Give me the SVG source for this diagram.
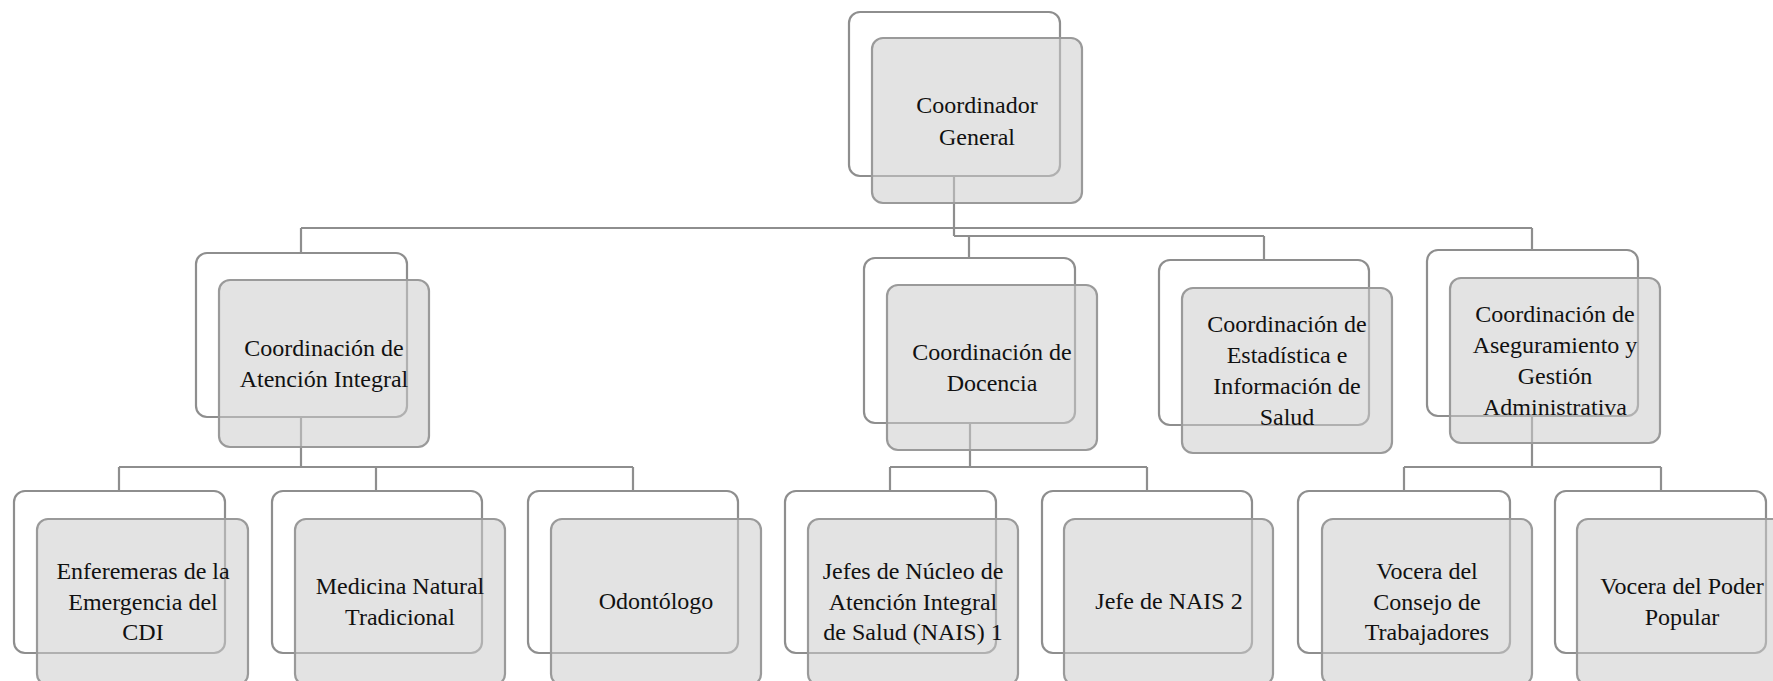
<svg xmlns="http://www.w3.org/2000/svg" width="1773" height="681" viewBox="0 0 1773 681">
<style>
.bg{fill:#ffffff;stroke:#8e8e8e;stroke-width:2.2}
.fg{fill:#cccccc;fill-opacity:0.55;stroke:#9a9a9a;stroke-width:2.2}
.t{font-family:"Liberation Serif","Times New Roman",serif;font-size:24px;fill:#111;text-anchor:middle}
.c{fill:none;stroke:#8e8e8e;stroke-width:2.2}
</style>
<rect width="1773" height="681" fill="#ffffff"/>
<g id="connectors" class="c">
<path d="M954 176 V236 M301 228 H1532 M301 228 V253 M1532 228 V250 M954 236 H1264 M969 236 V258 M1264 236 V260"/>
<path d="M301 417 V467 M119 467 H633 M119 467 V491 M376 467 V491 M633 467 V491"/>
<path d="M970 423 V467 M890 467 H1147 M890 467 V491 M1147 467 V491"/>
<path d="M1532 416 V467 M1404 467 H1661 M1404 467 V491 M1661 467 V491"/>
</g>
<g id="n-coordinador">
<rect class="bg" x="849" y="12" width="211" height="164" rx="11"/>
<rect class="fg" x="872" y="38" width="210" height="165" rx="11"/>
<text class="t" x="977" y="113">Coordinador</text>
<text class="t" x="977" y="145">General</text>
</g>
<g id="n-atencion">
<rect class="bg" x="196" y="253" width="211" height="164" rx="11"/>
<rect class="fg" x="219" y="280" width="210" height="167" rx="11"/>
<text class="t" x="324" y="356">Coordinación de</text>
<text class="t" x="324" y="387">Atención Integral</text>
</g>
<g id="n-docencia">
<rect class="bg" x="864" y="258" width="211" height="165" rx="11"/>
<rect class="fg" x="887" y="285" width="210" height="165" rx="11"/>
<text class="t" x="992" y="360">Coordinación de</text>
<text class="t" x="992" y="391">Docencia</text>
</g>
<g id="n-estadistica">
<rect class="bg" x="1159" y="260" width="210" height="165" rx="11"/>
<rect class="fg" x="1182" y="288" width="210" height="165" rx="11"/>
<text class="t" x="1287" y="332">Coordinación de</text>
<text class="t" x="1287" y="363">Estadística e</text>
<text class="t" x="1287" y="394">Información de</text>
<text class="t" x="1287" y="425">Salud</text>
</g>
<g id="n-aseguramiento">
<rect class="bg" x="1427" y="250" width="211" height="166" rx="11"/>
<rect class="fg" x="1450" y="278" width="210" height="165" rx="11"/>
<text class="t" x="1555" y="322">Coordinación de</text>
<text class="t" x="1555" y="353">Aseguramiento  y</text>
<text class="t" x="1555" y="384">Gestión</text>
<text class="t" x="1555" y="415">Administrativa</text>
</g>
<g id="n-enfermeras">
<rect class="bg" x="14" y="491" width="211" height="162" rx="11"/>
<rect class="fg" x="37" y="519" width="211" height="166" rx="11"/>
<text class="t" x="143" y="579">Enferemeras de la</text>
<text class="t" x="143" y="610">Emergencia del</text>
<text class="t" x="143" y="640">CDI</text>
</g>
<g id="n-medicina">
<rect class="bg" x="272" y="491" width="210" height="162" rx="11"/>
<rect class="fg" x="295" y="519" width="210" height="166" rx="11"/>
<text class="t" x="400" y="594">Medicina Natural</text>
<text class="t" x="400" y="625">Tradicional</text>
</g>
<g id="n-odontologo">
<rect class="bg" x="528" y="491" width="210" height="162" rx="11"/>
<rect class="fg" x="551" y="519" width="210" height="166" rx="11"/>
<text class="t" x="656" y="609">Odontólogo</text>
</g>
<g id="n-nucleo">
<rect class="bg" x="785" y="491" width="211" height="162" rx="11"/>
<rect class="fg" x="808" y="519" width="210" height="166" rx="11"/>
<text class="t" x="913" y="579">Jefes de Núcleo de</text>
<text class="t" x="913" y="610">Atención Integral</text>
<text class="t" x="913" y="640">de Salud (NAIS) 1</text>
</g>
<g id="n-nais2">
<rect class="bg" x="1042" y="491" width="210" height="162" rx="11"/>
<rect class="fg" x="1064" y="519" width="209" height="166" rx="11"/>
<text class="t" x="1169" y="609">Jefe de NAIS 2</text>
</g>
<g id="n-consejo">
<rect class="bg" x="1298" y="491" width="212" height="162" rx="11"/>
<rect class="fg" x="1322" y="519" width="210" height="166" rx="11"/>
<text class="t" x="1427" y="579">Vocera del</text>
<text class="t" x="1427" y="610">Consejo de</text>
<text class="t" x="1427" y="640">Trabajadores</text>
</g>
<g id="n-poder">
<rect class="bg" x="1555" y="491" width="211" height="162" rx="11"/>
<rect class="fg" x="1577" y="519" width="210" height="166" rx="11"/>
<text class="t" x="1682" y="594">Vocera del Poder</text>
<text class="t" x="1682" y="625">Popular</text>
</g>
</svg>
